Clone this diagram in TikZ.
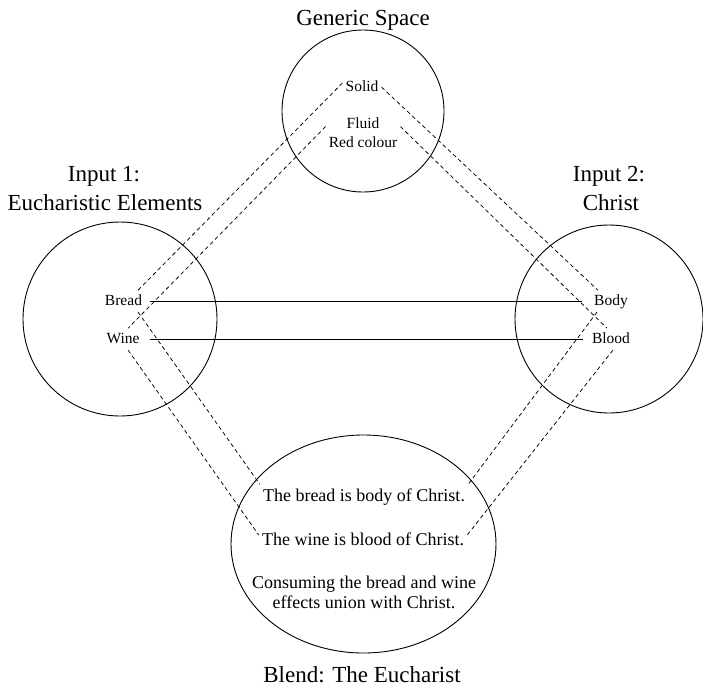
\documentclass[tikz,border=0pt]{standalone}
\usepackage{fontspec}
\setmainfont{Liberation Serif}
\usetikzlibrary{shapes.geometric}
\begin{document}
\begin{tikzpicture}[x=1pt,y=-1pt,
  ring/.style={draw, line width=0.9pt, circle, inner sep=0pt},
  ovalring/.style={draw, line width=0.9pt, ellipse, inner sep=0pt},
  big/.style={font=\fontsize{23}{29}\selectfont, anchor=base, inner sep=0pt},
  small/.style={font=\fontsize{15.5}{19}\selectfont, text height=11.6pt, text depth=3.9pt, inner sep=3pt, anchor=base},
  smallpair/.style={font=\fontsize{15.5}{19}\selectfont, align=center, inner sep=3pt},
  mid/.style={font=\fontsize{18}{20}\selectfont, text height=13.5pt, text depth=4.5pt, inner sep=3pt, anchor=base},
  midpair/.style={font=\fontsize{18}{20}\selectfont, align=center, inner sep=3pt},
  link/.style={line width=0.75pt},
  dlink/.style={line width=0.75pt, dash pattern=on 4pt off 3pt}]
\useasboundingbox (0,0) rectangle (703,686);

% circles
\node[ring, minimum size=162pt] (genc) at (363,111) {};
\node[ring, minimum size=194pt] (in1c) at (120,319) {};
\node[ring, minimum size=188pt] (in2c) at (609,319) {};
\node[ovalring, minimum width=265pt, minimum height=218pt] (blc) at (363.5,544) {};

% titles
\node[big] (gtitle) at (363,25) {Generic Space};
\node[big] (ina) at (104,181) {Input 1:};
\node[big] (inb) at (105,210) {Eucharistic Elements};
\node[big] (inc) at (609,181) {Input 2:};
\node[big] (ind) at (611,210) {Christ};
\node[big] (btitle) at (362,682) {Blend: The Eucharist};

% labels
\node[small] (solid) at (362,91) {Solid};
\node[smallpair] (fl) at (363,132.5) {Fluid\\Red colour};
\node[small] (bread) at (123.5,305) {Bread};
\node[small] (wine) at (123,343) {Wine};
\node[small] (body) at (611,305) {Body};
\node[small] (blood) at (611,343) {Blood};
\node[mid] (tb) at (364,501) {The bread is body of Christ.};
\node[mid] (tw) at (363,545) {The wine is blood of Christ.};
\node[midpair] (cons) at (364,592) {Consuming the bread and wine\\effects union with Christ.};

% solid connectors
\draw[link, shorten <=5pt, shorten >=9pt] (bread.east) -- (body.west);
\draw[link, shorten <=7pt, shorten >=6pt] (wine.east) -- (blood.west);

% dashed connectors
\draw[dlink] (solid.168) -- (bread.37);
\draw[dlink] (fl.171) -- (wine.65);
\draw[dlink] (solid.east) -- (body.140);
\draw[dlink] (fl.9) -- (blood.110);
\draw[dlink] (bread.-37) -- (tb.north west);
\draw[dlink] (wine.-65) -- (tw.177);
\draw[dlink] (body.218) -- (tb.north east);
\draw[dlink] (blood.280) -- (tw.3);
\end{tikzpicture}
\end{document}
